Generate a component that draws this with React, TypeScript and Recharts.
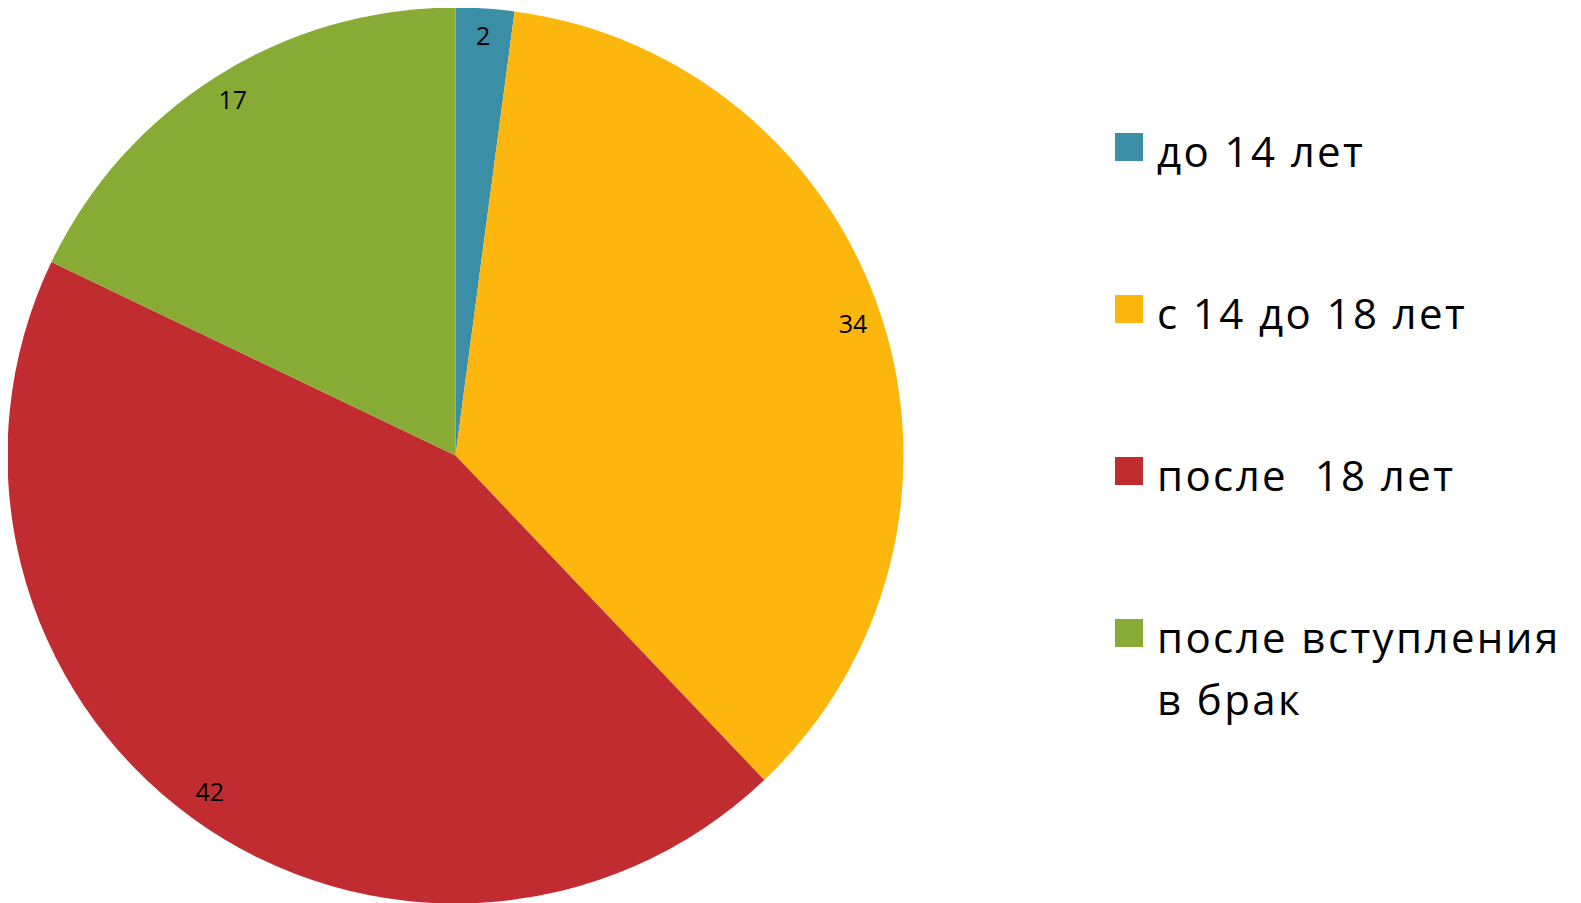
import { PieChart, Pie, Cell, Legend } from 'recharts';

const categories = ['до 14 лет', 'с 14 до 18 лет', 'после  18 лет', 'после вступления в брак'];
const values = [2, 34, 42, 17];
const colors = ['#3A8FA6', '#FDB60D', '#C12C30', '#87AB35'];

const data = categories.map((name, i) => ({ name, value: values[i] }));

const RADIAN = Math.PI / 180;

const renderLabel = (props: any) => {
  const { cx, cy, midAngle, outerRadius, value } = props;
  const r = outerRadius - 30;
  const x = cx + r * Math.cos(-midAngle * RADIAN);
  const y = cy + r * Math.sin(-midAngle * RADIAN) - 3;
  return (
    <text
      x={x}
      y={y}
      fill="#000"
      textAnchor="middle"
      dominantBaseline="central"
      fontSize={25}
      fontFamily="'Open Sans', sans-serif"
    >
      {value}
    </text>
  );
};

// legend text wraps after "после вступления" like the original
const renderLegend = () => (
  <div style={{ fontFamily: "'Open Sans', sans-serif", fontSize: 42, letterSpacing: 2.4, color: '#000' }}>
    {data.map((d, i) => (
      <div
        key={d.name}
        style={{ display: 'flex', alignItems: 'flex-start', marginBottom: i < data.length - 1 ? 100 : 0 }}
      >
        <div style={{ width: 28, height: 28, background: colors[i], marginTop: 13, marginRight: 14, flex: 'none' }} />
        <div style={{ lineHeight: '62px', width: 430, whiteSpace: 'pre' }}>
          {d.name === 'после вступления в брак' ? 'после вступления\nв брак' : d.name}
        </div>
      </div>
    ))}
  </div>
);

export default function App() {
  return (
    <PieChart width={1573} height={895}>
      <Pie
        data={data}
        dataKey="value"
        nameKey="name"
        cx={442.5}
        cy={442.5}
        outerRadius={448}
        startAngle={90}
        endAngle={-270}
        stroke="none"
        label={renderLabel}
        labelLine={false}
        isAnimationActive={false}
      >
        {data.map((d, i) => (
          <Cell key={d.name} fill={colors[i]} />
        ))}
      </Pie>
      <Legend content={renderLegend} wrapperStyle={{ left: 1107, top: 112, width: 460 }} />
    </PieChart>
  );
}
